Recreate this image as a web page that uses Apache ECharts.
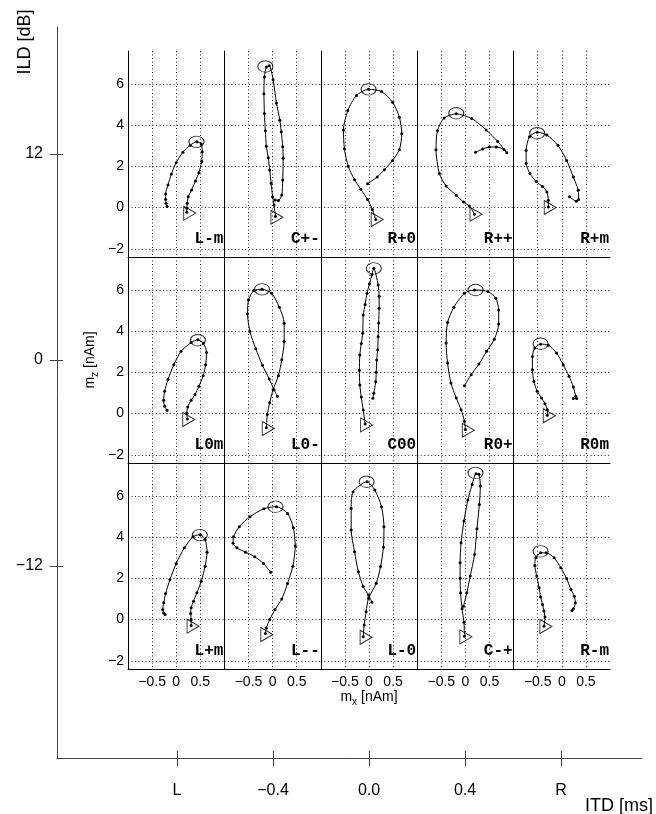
<!DOCTYPE html>
<html>
<head>
<meta charset="utf-8">
<script src="https://cdn.jsdelivr.net/npm/echarts@6/dist/echarts.min.js"></script>
<style>
  html, body { margin: 0; padding: 0; background: #fff; }
  #chart { width: 656px; height: 814px; }
</style>
</head>
<body>
<div id="chart"></div>
<script>
// panel names, row by row (ILD 12 / 0 / -12), column by column (L ... R)
const panelLabels = ["L-m", "C+-", "R+0", "R++", "R+m",
                     "L0m", "L0-", "C00", "R0+", "R0m",
                     "L+m", "L--", "L-0", "C-+", "R-m"];

// trajectories, [m_x, m_z] in nAm
const trLm  = [[-0.19,0.05],[-0.21,0.21],[-0.22,0.40],[-0.22,0.66],[-0.17,1.10],[-0.10,1.63],[0.0,2.18],[0.14,2.69],[0.29,3.03],[0.43,3.19],[0.52,3.08],[0.54,2.71],[0.53,2.23],[0.47,1.69],[0.40,1.29],[0.32,0.85],[0.25,0.53],[0.23,0.21],[0.22,-0.03],[0.22,-0.23]];
const trCpn = [[0.06,-0.44],[0.03,0.13],[0.0,0.53],[-0.03,1.18],[-0.06,1.82],[-0.09,2.42],[-0.13,2.98],[-0.15,3.73],[-0.17,4.56],[-0.18,5.53],[-0.17,6.34],[-0.13,6.82],[-0.07,6.89],[0.01,6.21],[0.08,5.08],[0.15,4.24],[0.18,3.68],[0.21,2.95],[0.22,2.39],[0.21,1.34],[0.19,0.61],[0.12,0.34],[0.05,0.37]];
const trRp0 = [[0.14,-0.58],[0.07,-0.10],[-0.03,0.39],[-0.17,0.89],[-0.30,1.35],[-0.43,2.0],[-0.51,2.85],[-0.53,3.77],[-0.44,4.71],[-0.26,5.44],[-0.01,5.74],[0.26,5.63],[0.49,5.11],[0.63,4.39],[0.68,3.58],[0.63,2.81],[0.49,2.29],[0.32,1.84],[0.17,1.48],[-0.03,1.16]];
const trRpp = [[0.19,-0.32],[0.08,0.08],[-0.04,0.27],[-0.19,0.60],[-0.40,1.05],[-0.54,1.65],[-0.61,2.81],[-0.58,3.74],[-0.44,4.35],[-0.19,4.55],[0.13,4.32],[0.43,3.77],[0.67,3.21],[0.86,2.66],[0.80,2.82],[0.64,2.94],[0.50,2.94],[0.36,2.84],[0.21,2.69]];
const trRpm = [[-0.28,0.03],[-0.28,0.35],[-0.31,0.76],[-0.40,1.02],[-0.53,1.26],[-0.66,1.65],[-0.74,2.15],[-0.74,2.77],[-0.67,3.44],[-0.51,3.66],[-0.31,3.52],[-0.08,3.02],[0.10,2.29],[0.24,1.48],[0.34,0.84],[0.35,0.39],[0.30,0.31],[0.16,0.53]];
const trL0m = [[0.23,-0.26],[0.22,0.03],[0.24,0.32],[0.31,0.65],[0.39,0.92],[0.47,1.32],[0.56,1.84],[0.61,2.37],[0.63,2.97],[0.56,3.42],[0.45,3.58],[0.31,3.45],[0.10,3.02],[-0.05,2.37],[-0.17,1.65],[-0.24,1.08],[-0.26,0.65],[-0.24,0.35],[-0.19,0.16]];
const trL0n = [[-0.13,-0.69],[-0.11,-0.05],[-0.06,0.52],[0.01,1.16],[0.12,1.84],[0.19,2.61],[0.24,3.50],[0.24,4.39],[0.14,5.16],[-0.02,5.84],[-0.22,6.03],[-0.39,5.97],[-0.50,5.52],[-0.52,4.84],[-0.47,3.98],[-0.35,3.15],[-0.21,2.34],[-0.07,1.68],[0.03,1.16],[0.10,0.84]];
const trC00 = [[-0.08,-0.51],[-0.12,0.17],[-0.16,0.8],[-0.19,1.39],[-0.20,2.1],[-0.19,2.84],[-0.16,3.4],[-0.13,3.90],[-0.12,4.78],[-0.08,5.3],[-0.04,5.84],[0.01,6.3],[0.06,6.73],[0.10,7.05],[0.19,6.24],[0.21,5.7],[0.21,5.11],[0.20,4.4],[0.19,3.73],[0.18,3.1],[0.16,2.60],[0.15,2.0],[0.14,1.55],[0.10,0.98],[0.08,0.74]];
const trR0p = [[0.0,-0.77],[-0.02,-0.37],[-0.09,0.19],[-0.19,0.76],[-0.30,1.48],[-0.37,2.45],[-0.40,3.42],[-0.37,4.42],[-0.24,5.16],[-0.02,5.84],[0.19,6.0],[0.47,5.92],[0.63,5.60],[0.69,5.03],[0.69,4.35],[0.60,3.61],[0.44,3.02],[0.28,2.40],[0.12,1.89],[-0.02,1.35]];
const trR0m = [[-0.30,-0.08],[-0.30,0.19],[-0.35,0.48],[-0.42,0.76],[-0.51,1.08],[-0.58,1.56],[-0.61,2.13],[-0.61,2.77],[-0.56,3.18],[-0.44,3.37],[-0.28,3.32],[-0.11,2.94],[0.03,2.37],[0.15,1.81],[0.24,1.29],[0.29,0.84],[0.31,0.73],[0.24,0.73]];
const trLpm = [[0.31,-0.29],[0.31,0.0],[0.30,0.29],[0.31,0.57],[0.36,0.89],[0.43,1.30],[0.52,1.86],[0.60,2.59],[0.64,3.27],[0.60,3.89],[0.50,4.12],[0.35,4.02],[0.17,3.48],[0.0,2.72],[-0.13,1.94],[-0.22,1.26],[-0.26,0.81],[-0.28,0.49],[-0.26,0.32],[-0.23,0.24]];
const trLnn = [[-0.15,-0.68],[-0.13,-0.41],[-0.06,0.0],[0.05,0.49],[0.19,1.0],[0.31,1.75],[0.42,2.59],[0.47,3.57],[0.43,4.46],[0.31,5.15],[0.08,5.48],[-0.18,5.38],[-0.47,4.99],[-0.69,4.51],[-0.81,4.02],[-0.82,3.70],[-0.74,3.48],[-0.56,3.27],[-0.37,3.05],[-0.19,2.72],[-0.04,2.30]];
const trLn0 = [[-0.12,-0.84],[-0.10,-0.26],[-0.06,0.38],[-0.01,1.03],[0.15,1.76],[0.24,2.57],[0.30,3.51],[0.31,4.51],[0.26,5.48],[0.12,6.29],[-0.04,6.69],[-0.33,6.21],[-0.37,5.40],[-0.37,4.35],[-0.30,3.29],[-0.22,2.32],[-0.12,1.60],[-0.01,1.19],[0.06,0.84]];
const trCnp = [[-0.02,-0.81],[-0.03,-0.13],[-0.07,0.52],[-0.10,1.30],[-0.11,2.0],[-0.11,2.76],[-0.09,3.73],[-0.03,4.78],[0.05,5.80],[0.14,6.56],[0.22,7.08],[0.28,7.05],[0.31,6.48],[0.29,5.59],[0.24,4.41],[0.19,3.16],[0.10,2.11],[0.03,1.30],[-0.04,0.65]];
const trRnm = [[-0.37,-0.32],[-0.35,0.13],[-0.37,0.41],[-0.40,0.73],[-0.44,1.1],[-0.47,1.54],[-0.52,2.11],[-0.56,2.63],[-0.54,3.0],[-0.44,3.24],[-0.32,3.24],[-0.16,3.0],[-0.02,2.51],[0.10,1.99],[0.19,1.46],[0.26,1.13],[0.28,0.81],[0.24,0.52],[0.21,0.44]];

const trajectories = [trLm, trCpn, trRp0, trRpp, trRpm,
                      trL0m, trL0n, trC00, trR0p, trR0m,
                      trLpm, trLnn, trLn0, trCnp, trRnm];

// circle = peak, triangle = start
const peakPoints = [[0.42,3.19],[-0.15,6.85],[-0.01,5.74],[-0.19,4.58],[-0.51,3.61],
                    [0.45,3.56],[-0.22,6.03],[0.10,7.05],[0.21,6.0],[-0.44,3.39],
                    [0.49,4.10],[0.06,5.48],[-0.05,6.69],[0.21,7.12],[-0.44,3.31]];
const startPoints = [[0.28,-0.27],[0.09,-0.47],[0.17,-0.58],[0.22,-0.32],[-0.24,0.0],
                     [0.26,-0.29],[-0.09,-0.73],[-0.05,-0.55],[0.06,-0.81],[-0.26,-0.11],
                     [0.35,-0.32],[-0.12,-0.73],[-0.06,-0.86],[0.01,-0.84],[-0.33,-0.34]];

// axis ticks
const itdTicks = [-0.8, -0.4, 0, 0.4, 0.8];
const itdLabels = ["L", "\u22120.4", "0.0", "0.4", "R"];
const ildTicks = [12, 0, -12];
const ildLabels = ["12", "0", "\u221212"];
const mxTicks = [-0.5, 0, 0.5];
const mzTicks = [-2, 0, 2, 4, 6];

const FONT = "Liberation Sans, Arial, Helvetica, sans-serif";
const MONO = "Liberation Mono, Courier New, monospace";
const minus = v => String(v).replace("-", "\u2212");
const pick = (ticks, labels) => v => {
  const i = ticks.findIndex(t => Math.abs(t - v) < 1e-6);
  return i < 0 ? "" : labels[i];
};

const chart = echarts.init(document.getElementById("chart"));

const outerLine = { show: true, onZero: false, lineStyle: { color: "#444", width: 1 } };
const grids = [{ left: 57, top: 27, width: 585, height: 731 }];
const xAxes = [
  {
    gridIndex: 0, type: "value", position: "bottom", min: -1.3, max: 1.1375,
    axisLine: outerLine,
    axisTick: { show: true, length: 8, customValues: itdTicks, lineStyle: { color: "#444" } },
    axisLabel: { customValues: itdTicks, formatter: pick(itdTicks, itdLabels), margin: 25,
                 fontSize: 16, fontFamily: FONT, color: "#000" },
    splitLine: { show: false }
  },
  {
    gridIndex: 0, type: "value", position: "bottom", min: -1.3, max: 1.1375,
    axisLine: { show: false, onZero: false },
    axisTick: { show: true, inside: true, length: 7, customValues: itdTicks, lineStyle: { color: "#444" } },
    axisLabel: { show: false },
    splitLine: { show: false }
  }
];
const yAxes = [
  {
    gridIndex: 0, type: "value", position: "left", min: -23.184, max: 19.398,
    axisLine: outerLine,
    axisTick: { show: true, length: 7, customValues: ildTicks, lineStyle: { color: "#444" } },
    axisLabel: { customValues: ildTicks, formatter: pick(ildTicks, ildLabels), margin: 14,
                 fontSize: 16, fontFamily: FONT, color: "#000" },
    splitLine: { show: false }
  },
  {
    gridIndex: 0, type: "value", position: "left", min: -23.184, max: 19.398,
    axisLine: { show: false, onZero: false },
    axisTick: { show: true, inside: true, length: 6, customValues: ildTicks, lineStyle: { color: "#444" } },
    axisLabel: { show: false },
    splitLine: { show: false }
  }
];

const series = [];
const graphics = [];
const colW = 96.4, rowH = 206, gLeft = 128, gTop = 51;
const gridLine = { show: true, lineStyle: { color: "#222", width: 1, type: [1, 2.5] } };
const innerLine = { show: true, onZero: false, lineStyle: { color: "#000", width: 1 } };

panelLabels.forEach((name, i) => {
  const r = Math.floor(i / 5), c = i % 5;
  const left = gLeft + c * colW, top = gTop + r * rowH;
  const gi = i + 1;      // grid index (grid 0 is the outer ITD/ILD frame)
  const ai = i + 2;      // axis index (two outer axes per direction)
  grids.push({ left: left, top: top, width: colW, height: rowH });
  xAxes.push({
    gridIndex: gi, type: "value", position: "bottom", min: -1, max: 1,
    axisLine: innerLine,
    axisTick: { show: false, customValues: mxTicks },
    axisLabel: { show: r === 2, customValues: mxTicks, formatter: minus, margin: 6,
                 fontSize: 14, fontFamily: FONT, color: "#000" },
    splitLine: gridLine
  });
  yAxes.push({
    gridIndex: gi, type: "value", position: "left", min: -2.4, max: 7.6,
    axisLine: innerLine,
    axisTick: { show: false, customValues: mzTicks },
    axisLabel: { show: c === 0, customValues: mzTicks, formatter: minus, margin: 4,
                 fontSize: 14, fontFamily: FONT, color: "#000" },
    splitLine: gridLine
  });
  series.push({
    type: "line", xAxisIndex: ai, yAxisIndex: ai, data: trajectories[i],
    smooth: 0.25, symbol: "circle", symbolSize: 3, showSymbol: true,
    lineStyle: { color: "#000", width: 1 }, itemStyle: { color: "#000" },
    silent: true, z: 3
  });
  series.push({
    type: "scatter", xAxisIndex: ai, yAxisIndex: ai, data: [peakPoints[i]],
    symbol: "circle", symbolSize: [15, 11.5],
    itemStyle: { color: "rgba(0,0,0,0)", borderColor: "#000", borderWidth: 1 },
    silent: true, z: 4
  });
  series.push({
    type: "scatter", xAxisIndex: ai, yAxisIndex: ai, data: [startPoints[i]],
    symbol: "path://M0,0L12,7L0,14Z", symbolSize: [12, 14],
    itemStyle: { color: "rgba(0,0,0,0)", borderColor: "#000", borderWidth: 1 },
    silent: true, z: 4
  });
  graphics.push({
    type: "text", x: left + colW - 1, y: top + 188,
    style: { text: name, font: "bold 16px " + MONO, fill: "#000", align: "right", verticalAlign: "middle" }
  });
});

// "m<sub>k</sub> [nAm]" built from three text pieces in a group
const subLabel = (sub, x, y, rotation) => ({
  type: "group", x: x, y: y, rotation: rotation,
  children: [
    { type: "text", x: 0, y: 0,
      style: { text: "m", fontSize: 14, fontFamily: FONT, fill: "#000", verticalAlign: "middle" } },
    { type: "text", x: 11.7, y: 5,
      style: { text: sub, fontSize: 10, fontFamily: FONT, fill: "#000", verticalAlign: "middle" } },
    { type: "text", x: 16.7, y: 0,
      style: { text: " [nAm]", fontSize: 14, fontFamily: FONT, fill: "#000", verticalAlign: "middle" } }
  ]
});

graphics.push(
  { type: "text", x: 25, y: 42, rotation: Math.PI / 2,
    style: { text: "ILD [dB]", fontSize: 18, fontFamily: FONT, fill: "#000", align: "center", verticalAlign: "middle" } },
  { type: "text", x: 653, y: 806,
    style: { text: "ITD [ms]", fontSize: 18, fontFamily: FONT, fill: "#000", align: "right", verticalAlign: "middle" } },
  subLabel("z", 90, 388.6, Math.PI / 2),
  subLabel("x", 340.4, 697, 0)
);

chart.setOption({
  animation: false,
  backgroundColor: "#fff",
  grid: grids,
  xAxis: xAxes,
  yAxis: yAxes,
  series: series,
  graphic: graphics
});
</script>
</body>
</html>
